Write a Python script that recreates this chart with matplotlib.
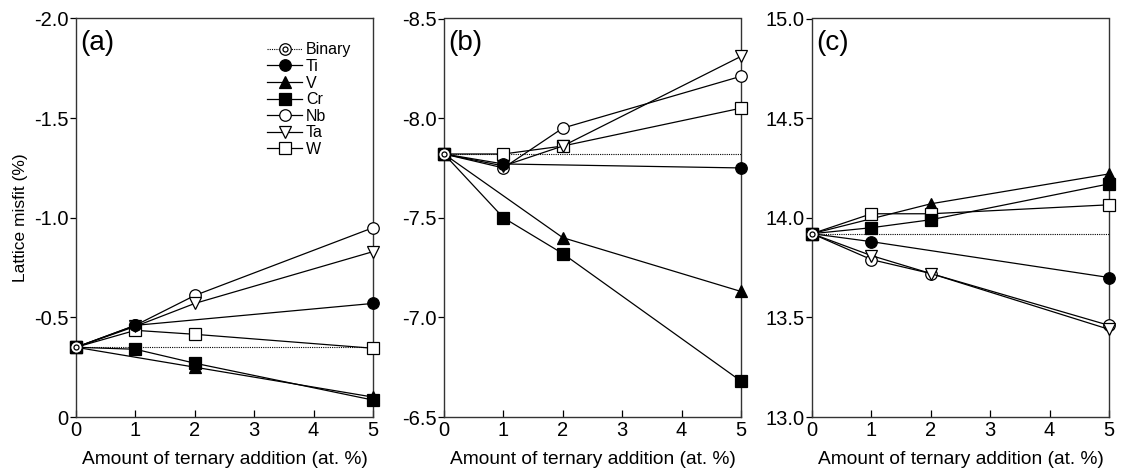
import matplotlib
matplotlib.use("Agg")
import matplotlib.pyplot as plt
from matplotlib.lines import Line2D
from matplotlib.legend_handler import HandlerTuple
from matplotlib.ticker import FuncFormatter

plt.rcParams['font.family'] = ['Liberation Sans', 'DejaVu Sans']

# ---------------- data ----------------
x_ti = [0, 1, 5]
x_v = [0, 2, 5]
x_full = [0, 1, 2, 5]

# panel (a)
binary_a = -0.35
ti_a = [-0.35, -0.46, -0.57]
v_a = [-0.35, -0.25, -0.10]
cr_a = [-0.35, -0.34, -0.27, -0.085]
nb_a = [-0.35, -0.46, -0.61, -0.95]
ta_a = [-0.35, -0.455, -0.57, -0.83]
w_a = [-0.35, -0.435, -0.415, -0.345]

# panel (b)
binary_b = -7.82
ti_b = [-7.82, -7.77, -7.75]
v_b = [-7.82, -7.40, -7.13]
cr_b = [-7.82, -7.50, -7.32, -6.68]
nb_b = [-7.82, -7.75, -7.95, -8.21]
ta_b = [-7.82, -7.76, -7.86, -8.31]
w_b = [-7.82, -7.82, -7.86, -8.05]

# panel (c)
binary_c = 13.92
ti_c = [13.92, 13.88, 13.70]
v_c = [13.92, 14.07, 14.22]
cr_c = [13.92, 13.95, 13.99, 14.17]
nb_c = [13.92, 13.79, 13.72, 13.46]
ta_c = [13.92, 13.81, 13.72, 13.44]
w_c = [13.92, 14.02, 14.02, 14.065]

panel_labels = ['(a)', '(b)', '(c)']
ylims = [(0, -2.0), (-6.5, -8.5), (13.0, 15.0)]
yticks = [[0, -0.5, -1.0, -1.5, -2.0],
          [-6.5, -7.0, -7.5, -8.0, -8.5],
          [13.0, 13.5, 14.0, 14.5, 15.0]]
xticks = [0, 1, 2, 3, 4, 5]
xlabel = 'Amount of ternary addition (at. %)'
ylabel = 'Lattice misfit (%)'
legend_labels = ['Binary', 'Ti', 'V', 'Cr', 'Nb', 'Ta', 'W']

panels = [
    dict(binary=binary_a, Ti=ti_a, V=v_a, Cr=cr_a, Nb=nb_a, Ta=ta_a, W=w_a),
    dict(binary=binary_b, Ti=ti_b, V=v_b, Cr=cr_b, Nb=nb_b, Ta=ta_b, W=w_b),
    dict(binary=binary_c, Ti=ti_c, V=v_c, Cr=cr_c, Nb=nb_c, Ta=ta_c, W=w_c),
]

# ---------------- styles ----------------
MS = 8.3
LW = 0.9
styles = {
    'Ti': dict(marker='o', mfc='black', ms=MS),
    'V': dict(marker='^', mfc='black', ms=MS),
    'Cr': dict(marker='s', mfc='black', ms=MS),
    'Nb': dict(marker='o', mfc='white', ms=MS),
    'Ta': dict(marker='v', mfc='white', ms=MS),
    'W': dict(marker='s', mfc='white', ms=MS),
}
xs = {'Ti': x_ti, 'V': x_v, 'Cr': x_full, 'Nb': x_full, 'Ta': x_full, 'W': x_full}
draw_order = ['V', 'W', 'Nb', 'Ta', 'Ti', 'Cr']

fig = plt.figure(figsize=(11.21, 4.73), dpi=100)
W_, H_ = 1121, 473
lefts = [76, 444, 812]
ax_w = 297
top_px, bot_px = 18.5, 417
axes = []
for i in range(3):
    ax = fig.add_axes([lefts[i] / W_, (H_ - bot_px) / H_, ax_w / W_, (bot_px - top_px) / H_])
    axes.append(ax)

def yfmt(v, pos):
    if abs(v) < 1e-9:
        return '0'
    return '%.1f' % v

for i, ax in enumerate(axes):
    d = panels[i]
    b = d['binary']
    ax.plot([0, 5], [b, b], linestyle=(0, (1, 1)), color='black', lw=0.8, zorder=2)
    for name in draw_order:
        st = styles[name]
        ax.plot(xs[name], d[name], color='black', lw=LW, marker=st['marker'],
                ms=st['ms'], mfc=st['mfc'], mec='black', mew=0.9,
                clip_on=False, zorder=3)
    ax.plot([0], [b], marker='o', ms=MS, mfc='white', mec='black', mew=0.9,
            clip_on=False, zorder=5, linestyle='none')
    ax.plot([0], [b], marker='o', ms=3.6, mfc='white', mec='black', mew=0.9,
            clip_on=False, zorder=6, linestyle='none')

    ax.set_xlim(0, 5)
    ax.set_ylim(*ylims[i])
    ax.set_xticks(xticks)
    ax.set_yticks(yticks[i])
    ax.yaxis.set_major_formatter(FuncFormatter(yfmt))
    ax.tick_params(axis='x', direction='in', length=5, width=0.9, labelsize=14.5, pad=3)
    ax.tick_params(axis='y', direction='out', length=4.5, width=0.9, labelsize=14.5, pad=1)
    for sp in ax.spines.values():
        sp.set_linewidth(1.0)
        sp.set_color('#333333')
    ax.set_xlabel(xlabel, fontsize=13.8, labelpad=8)
    ax.text(0.015, 0.972, panel_labels[i], transform=ax.transAxes, fontsize=20,
            ha='left', va='top')

axes[0].set_ylabel(ylabel, fontsize=12.5, labelpad=4)

# legend in panel (a)
h_bin = (Line2D([], [], color='black', lw=0.8, linestyle=(0, (1, 1)), marker='o', ms=MS,
                mfc='white', mec='black', mew=0.9),
         Line2D([], [], linestyle='none', marker='o', ms=3.6, mfc='white', mec='black', mew=0.9))
handles = [h_bin]
for name in ['Ti', 'V', 'Cr', 'Nb', 'Ta', 'W']:
    st = styles[name]
    handles.append(Line2D([], [], color='black', lw=LW, marker=st['marker'], ms=st['ms'],
                          mfc=st['mfc'], mec='black', mew=0.9))
axes[0].legend(handles, legend_labels, handler_map={tuple: HandlerTuple(ndivide=1)},
               loc='upper left', bbox_to_anchor=(0.643, 0.94), frameon=False,
               fontsize=11.5, handlelength=2.2, handletextpad=0.25, labelspacing=0.1,
               borderpad=0, borderaxespad=0)

fig.savefig('out.png', dpi=100)
